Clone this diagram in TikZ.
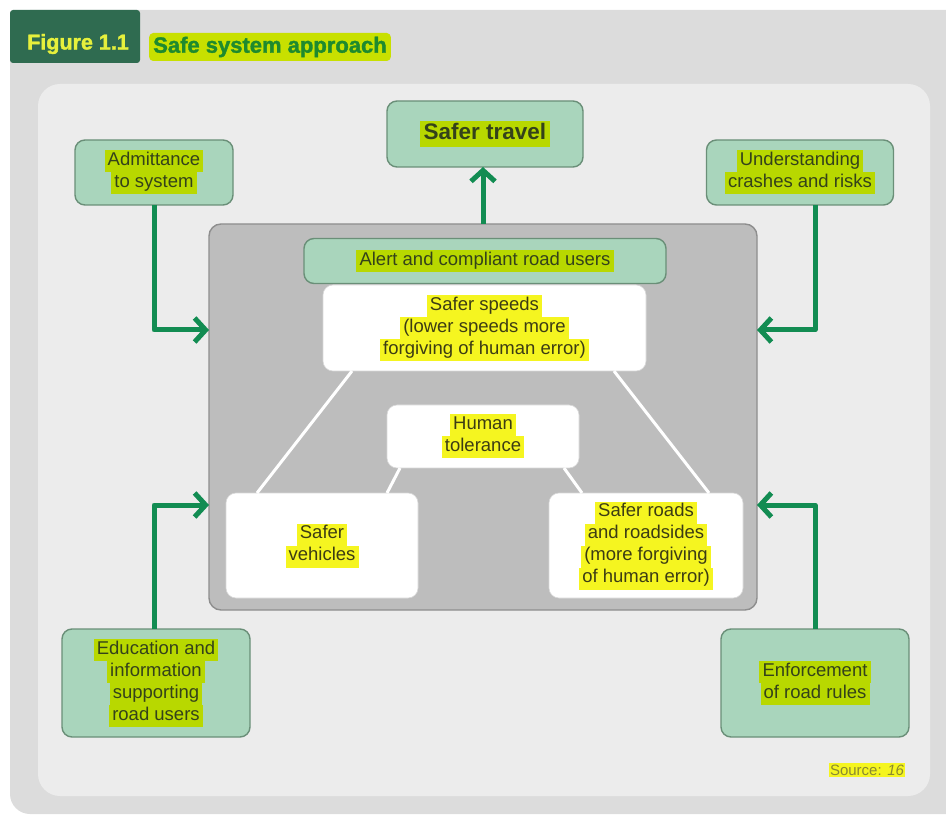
\documentclass[tikz,border=0pt]{standalone}
\usepackage{fontspec}
\setmainfont{Liberation Sans}
\newfontfamily\heavyfont{Liberation Sans}[BoldFeatures={FakeBold=1.6}]
\usetikzlibrary{arrows.meta,calc}
\definecolor{outergray}{HTML}{DCDCDC}
\definecolor{innergray}{HTML}{ECECEC}
\definecolor{tabgreen}{HTML}{2F6B50}
\definecolor{figyellow}{HTML}{E6F03C}
\definecolor{titlehl}{HTML}{C8E000}
\definecolor{titletext}{HTML}{1E8A2E}
\definecolor{gboxfill}{HTML}{A9D5BC}
\definecolor{gboxborder}{HTML}{6A8F78}
\definecolor{sysfill}{HTML}{BDBDBD}
\definecolor{sysborder}{HTML}{8E8E8E}
\definecolor{arrowgreen}{HTML}{128C52}
\definecolor{hlgreen}{HTML}{B8D800}
\definecolor{hlyellow}{HTML}{F5F520}
\definecolor{textg}{HTML}{34421A}
\definecolor{textw}{HTML}{3C3C14}
\definecolor{srctext}{HTML}{8A8A30}
\newcommand\myBody{\fontsize{18.5}{22}\selectfont}
\newcommand\hlg[1]{{\fboxsep=0pt\colorbox{hlgreen}{\strut\,#1\,}}}
\newcommand\hlw[1]{{\fboxsep=0pt\colorbox{hlyellow}{\strut\,#1\,}}}
\begin{document}
\begin{tikzpicture}[x=1pt,y=-1pt,
  gbox/.style={draw=gboxborder, fill=gboxfill, line width=1.4pt, rounded corners=10pt,
    align=center, inner sep=2pt, outer sep=0pt, text=textg, font=\myBody},
  wbox/.style={draw=white!85!black, fill=white, line width=0.6pt, rounded corners=10pt,
    align=center, inner sep=2pt, outer sep=0pt, text=textw, font=\myBody},
  garrow/.style={draw=arrowgreen, line width=5pt, line join=round,
    -{Straight Barb[length=11pt,width=24pt]}},
  wline/.style={draw=white, line width=3pt}]
\useasboundingbox (0,0) rectangle (946,818);
% panels
\fill[outergray, rounded corners=20pt] (10,10) rectangle (980,814);
\fill[innergray, rounded corners=22pt] (38,84) rectangle (930,796);
\fill[tabgreen, rounded corners=3pt] (10,10) rectangle (140,63);
\node[text=figyellow, font=\fontsize{21.5}{24}\heavyfont\bfseries] (fig) at (78,44) {Figure 1.1};
\node[fill=titlehl, rounded corners=4pt, inner xsep=4pt, minimum height=28pt,
  text=titletext, font=\fontsize{22}{24}\heavyfont\bfseries] (title) at (270,47) {Safe system approach};
% system box
\node[draw=sysborder, fill=sysfill, line width=1.4pt, rounded corners=12pt,
  minimum width=548pt, minimum height=386pt, outer sep=0pt] (sys) at (483,417) {};
% top boxes
\node[gbox, minimum width=196pt, minimum height=66pt, font=\fontsize{22.5}{26}\selectfont\bfseries] (travel) at (485,134) {\hlg{Safer travel}};
\node[gbox, minimum width=158pt, minimum height=65pt] (adm) at (154,172.5) {\hlg{Admittance}\\\hlg{to system}};
\node[gbox, minimum width=187pt, minimum height=65pt] (und) at (800,172.5) {\hlg{Understanding}\\\hlg{crashes and risks}};
% inner boxes
\node[gbox, minimum width=362pt, minimum height=45pt] (alert) at (485,261) {\hlg{Alert and compliant road users}};
\node[wbox, minimum width=323pt, minimum height=86pt] (speeds) at (484.5,328) {\hlw{Safer speeds}\\\hlw{(lower speeds more}\\\hlw{forgiving of human error)}};
\node[wbox, minimum width=192pt, minimum height=63pt] (human) at (483,436.5) {\hlw{Human}\\\hlw{tolerance}};
\node[wbox, minimum width=192pt, minimum height=105pt] (veh) at (322,545.5) {\hlw{Safer}\\\hlw{vehicles}};
\node[wbox, minimum width=194pt, minimum height=105pt] (roads) at (646,545.5) {\hlw{Safer roads}\\\hlw{and roadsides}\\\hlw{(more forgiving}\\\hlw{of human error)}};
% bottom boxes
\node[gbox, minimum width=188pt, minimum height=108pt] (edu) at (156,683) {\hlg{Education and}\\\hlg{information}\\\hlg{supporting}\\\hlg{road users}};
\node[gbox, minimum width=188pt, minimum height=108pt] (enf) at (815,683) {\hlg{Enforcement}\\\hlg{of road rules}};
% source
\node[fill=hlyellow, inner sep=1.5pt, text=srctext, font=\fontsize{15}{17}\selectfont] (src) at (867,770) {Source: \textit{16}};
% white links
\draw[wline] ($(speeds.south west)+(29,0)$) -- ($(veh.north west)+(31,0)$);
\draw[wline] ($(speeds.south east)+(-32,0)$) -- ($(roads.north east)+(-34,0)$);
\draw[wline] ($(human.south west)+(13,0)$) -- ($(veh.north east)+(-31,0)$);
\draw[wline] ($(human.south east)+(-15,0)$) -- ($(roads.north west)+(33,0)$);
% coordinates for arrows
\coordinate (ya) at (0,330);
\coordinate (yb) at (0,505);
\coordinate (xr) at (815,0);
\coordinate (xl) at (154,0);
% arrows
\draw[garrow] (sys.north) -- (sys.north |- travel.south);
\draw[garrow] (adm.south) |- (sys.west |- ya);
\draw[garrow] (und.south -| xr) |- (sys.east |- ya);
\draw[garrow] (edu.north -| xl) |- (sys.west |- yb);
\draw[garrow] (enf.north) |- (sys.east |- yb);
\end{tikzpicture}
\end{document}
